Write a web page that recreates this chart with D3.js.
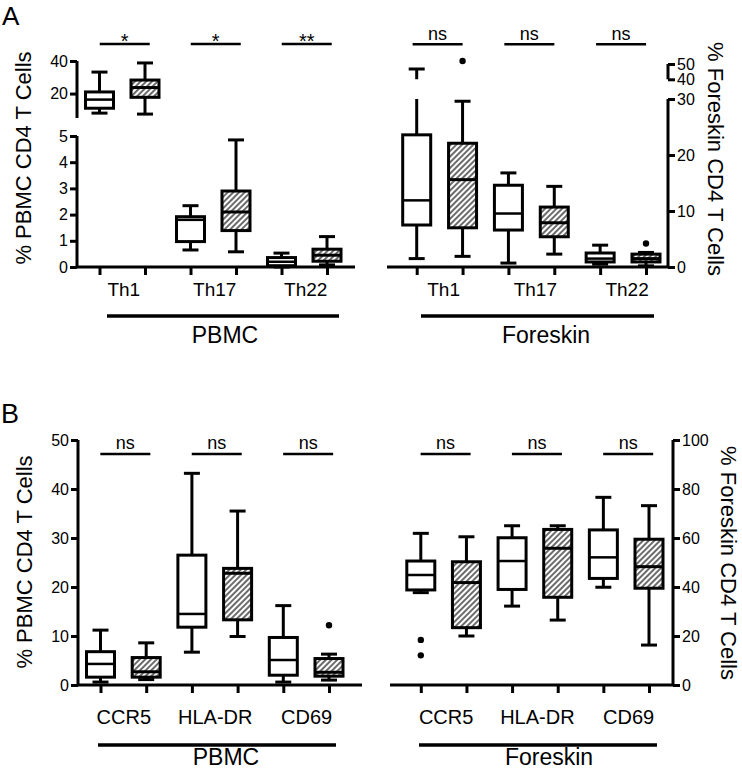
<!DOCTYPE html>
<html><head><meta charset="utf-8">
<script src="https://cdn.jsdelivr.net/npm/d3@7"></script>
<style>
body{margin:0;background:#fff}
text{font-family:"Liberation Sans",Arial,sans-serif;fill:#000}
</style>
</head><body><script>
// ---------- DATA ----------
const catA = ["Th1", "Th17", "Th22"];
const catB = ["CCR5", "HLA-DR", "CD69"];
// each box: [min, q1, median, q3, max]
const aPbmcOpen  = [[8, 11, 16.3, 21, 33.2], [0.65, 0.97, 1.8, 1.92, 2.34], [0, 0.05, 0.2, 0.36, 0.53]];
const aPbmcHatch = [[7.4, 17.7, 23.7, 28.3, 38.8], [0.58, 1.39, 2.1, 2.9, 4.85], [0.08, 0.22, 0.45, 0.68, 1.16]];
const aPbmcOpenOut = [[], [], []];
const aPbmcHatchOut = [[], [], []];
const aForeOpen  = [[1.5, 7.5, 11.9, 23.6, 46.7], [0.7, 6.6, 9.55, 14.6, 16.8], [0.5, 0.9, 1.5, 2.5, 3.9]];
const aForeHatch = [[1.9, 7.0, 15.6, 22.1, 29.6], [2.3, 5.4, 7.9, 10.7, 14.4], [0.2, 0.9, 1.5, 2.3, 2.6]];
const aForeOpenOut = [[], [], []];
const aForeHatchOut = [[52], [], [4.2]];
const bPbmcOpen  = [[0.6, 1.6, 4.3, 6.8, 11.2], [6.7, 11.8, 14.5, 26.5, 43.2], [0.6, 2.0, 5.1, 9.7, 16.2]];
const bPbmcHatch = [[1.1, 1.6, 2.7, 5.6, 8.6], [9.9, 13.3, 22.8, 23.8, 35.5], [1.0, 1.8, 2.6, 5.4, 6.3]];
const bPbmcOpenOut = [[], [], []];
const bPbmcHatchOut = [[], [], [12.2]];
const bForeOpen  = [[37.7, 38.8, 44.9, 50.6, 61.9], [32.2, 39.0, 50.6, 60.1, 65.0], [39.9, 43.5, 52.1, 63.3, 76.6]];
const bForeHatch = [[20.0, 23.4, 41.8, 50.3, 60.5], [26.5, 35.8, 55.8, 63.5, 65.0], [16.3, 39.5, 48.3, 59.5, 73.2]];
const bForeOpenOut = [[18.4, 12.1], [], []];
const bForeHatchOut = [[], [], []];
const sigAPbmc = ["*", "*", "**"];
const sigAFore = ["ns", "ns", "ns"];
const sigBPbmc = ["ns", "ns", "ns"];
const sigBFore = ["ns", "ns", "ns"];
const ticksAPbmcUpper = [20, 40];
const ticksAPbmcLower = [0, 1, 2, 3, 4, 5];
const ticksAForeUpper = [40, 50];
const ticksAForeLower = [0, 10, 20, 30];
const ticksBPbmc = [0, 10, 20, 30, 40, 50];
const ticksBFore = [0, 20, 40, 60, 80, 100];
const groupNames = ["PBMC", "Foreskin"];
const yTitlePbmc = "% PBMC CD4 T Cells";
const yTitleFore = "% Foreskin CD4 T Cells";
const panelLetters = ["A", "B"];

// ---------- LAYOUT ----------
const W = 742, H = 771;
const svg = d3.select("body").append("svg").attr("width", W).attr("height", H);
const defs = svg.append("defs");
const pat = defs.append("pattern").attr("id", "hatch").attr("patternUnits", "userSpaceOnUse")
  .attr("width", 4).attr("height", 4).attr("patternTransform", "rotate(45)");
pat.append("rect").attr("width", 4).attr("height", 4).attr("fill", "#fff");
pat.append("line").attr("x1", 1).attr("y1", -1).attr("x2", 1).attr("y2", 5)
  .attr("stroke", "#3a3a3a").attr("stroke-width", 1.5);

const panels = [
  { cats: catA, open: aPbmcOpen, hatch: aPbmcHatch, openOut: aPbmcOpenOut, hatchOut: aPbmcHatchOut,
    sig: sigAPbmc, group: groupNames[0], side: "left", axisX: 77, xRange: [99.5, 327], xExt: [77, 355], baseY: 267,
    segs: [{ domain: [0, 5], range: [267, 136], ticks: ticksAPbmcLower, clip: [132, 276] },
           { domain: [5, 40], range: [118, 61], ticks: ticksAPbmcUpper, clip: [40, 117] }],
    sigLineY: 44, sigTextY: 47.5, sigFont: 20, sigOff: 2.5, catY: 296, catFont: 19, catOff: 1.5,
    lineY: 316, lineX: [107, 339], groupX: 225, groupY: 343 },
  { cats: catA, open: aForeOpen, hatch: aForeHatch, openOut: aForeOpenOut, hatchOut: aForeHatchOut,
    sig: sigAFore, group: groupNames[1], side: "right", axisX: 668, xRange: [416.7, 646], xExt: [387, 668], baseY: 267,
    segs: [{ domain: [0, 30], range: [267, 99], ticks: ticksAForeLower, clip: [99, 276] },
           { domain: [40, 50], range: [79.3, 64], ticks: ticksAForeUpper, clip: [40, 79.3] }],
    sigLineY: 44.3, sigTextY: 39.5, sigFont: 18, sigOff: -2, catY: 296, catFont: 19, catOff: 4,
    lineY: 316, lineX: [421, 654], groupX: 546, groupY: 343 },
  { cats: catB, open: bPbmcOpen, hatch: bPbmcHatch, openOut: bPbmcOpenOut, hatchOut: bPbmcHatchOut,
    sig: sigBPbmc, group: groupNames[0], side: "left", axisX: 78, xRange: [100.5, 329], xExt: [78, 362], baseY: 685,
    segs: [{ domain: [0, 50], range: [685, 440], ticks: ticksBPbmc, clip: [420, 694] }],
    sigLineY: 454, sigTextY: 448.5, sigFont: 18, sigOff: 2, catY: 724, catFont: 20, catOff: 0.5,
    lineY: 745, lineX: [98, 336], groupX: 226, groupY: 765 },
  { cats: catB, open: bForeOpen, hatch: bForeHatch, openOut: bForeOpenOut, hatchOut: bForeHatchOut,
    sig: sigBFore, group: groupNames[1], side: "right", axisX: 673, xRange: [420.8, 649], xExt: [390, 673], baseY: 685,
    segs: [{ domain: [0, 100], range: [685, 440], ticks: ticksBFore, clip: [420, 694] }],
    sigLineY: 454, sigTextY: 448.5, sigFont: 18, sigOff: 2, catY: 724, catFont: 20, catOff: 2.5,
    lineY: 745, lineX: [419, 657], groupX: 549, groupY: 765 }
];

const BW = 28, CW = 16, SW = 3;

function drawBox(g, y, dom, cx, s, hatched, outs) {
  const [mn, q1, md, q3, mx] = s;
  const inDom = v => v >= dom[0] && v <= dom[1];
  const line = (x1, y1, x2, y2, w) => g.append("line").attr("x1", x1).attr("y1", y1).attr("x2", x2).attr("y2", y2)
    .attr("stroke", "#000").attr("stroke-width", w);
  line(cx, y(q3), cx, y(mx), SW);
  line(cx, y(q1), cx, y(mn), SW);
  if (inDom(mx)) line(cx - CW / 2, y(mx), cx + CW / 2, y(mx), SW);
  if (inDom(mn)) line(cx - CW / 2, y(mn), cx + CW / 2, y(mn), SW);
  g.append("rect").attr("x", cx - BW / 2).attr("y", y(q3)).attr("width", BW)
    .attr("height", Math.max(0.5, y(q1) - y(q3)))
    .attr("fill", hatched ? "url(#hatch)" : "#fff").attr("stroke", "#000").attr("stroke-width", SW);
  line(cx - BW / 2, y(md), cx + BW / 2, y(md), hatched ? 3 : 2.5);
  outs.forEach(v => g.append("circle").attr("cx", cx).attr("cy", y(v)).attr("r", 3.2).attr("fill", "#000"));
}

panels.forEach((p, pi) => {
  const slots = d3.range(p.cats.length * 2);
  const x = d3.scalePoint().domain(slots).range(p.xRange);
  const g = svg.append("g");

  p.segs.forEach((sg, si) => {
    const y = d3.scaleLinear().domain(sg.domain).range(sg.range);
    const cid = `clip${pi}_${si}`;
    defs.append("clipPath").attr("id", cid).append("rect")
      .attr("x", p.xExt[0] - 20).attr("y", sg.clip[0]).attr("width", p.xExt[1] - p.xExt[0] + 40)
      .attr("height", sg.clip[1] - sg.clip[0]);
    const bg = g.append("g").attr("clip-path", `url(#${cid})`);
    p.cats.forEach((c, i) => {
      drawBox(bg, y, sg.domain, x(2 * i), p.open[i], false, p.openOut[i]);
      drawBox(bg, y, sg.domain, x(2 * i + 1), p.hatch[i], true, p.hatchOut[i]);
    });
    const ax = (p.side === "left" ? d3.axisLeft(y) : d3.axisRight(y))
      .tickValues(sg.ticks).tickSize(7).tickSizeOuter(0).tickPadding(2).tickFormat(d3.format("d"));
    const ag = g.append("g").attr("transform", `translate(${p.axisX},0)`).call(ax);
    ag.select(".domain").attr("stroke-width", SW).attr("d", `M0,${sg.range[0]}V${sg.range[1]}`);
    ag.selectAll(".tick line").attr("stroke-width", SW);
    ag.selectAll(".tick text").style("font-size", "16px").style("font-family", '"Liberation Sans",Arial,sans-serif');
  });

  const xa = d3.axisBottom(x).tickSize(8).tickSizeOuter(0).tickFormat("");
  const xg = g.append("g").attr("transform", `translate(0,${p.baseY})`).call(xa);
  xg.select(".domain").attr("stroke-width", SW).attr("d", `M${p.xExt[0]},0H${p.xExt[1]}`);
  xg.selectAll(".tick line").attr("stroke-width", SW);

  p.cats.forEach((c, i) => {
    const mid = (x(2 * i) + x(2 * i + 1)) / 2;
    g.append("text").attr("x", mid + p.catOff).attr("y", p.catY).attr("text-anchor", "middle")
      .style("font-size", p.catFont + "px").text(c);
    const sc = mid + p.sigOff;
    g.append("line").attr("x1", sc - 25).attr("x2", sc + 25).attr("y1", p.sigLineY).attr("y2", p.sigLineY)
      .attr("stroke", "#000").attr("stroke-width", 2.5);
    g.append("text").attr("x", sc).attr("y", p.sigTextY).attr("text-anchor", "middle")
      .style("font-size", p.sigFont + "px").text(p.sig[i]);
  });

  g.append("line").attr("x1", p.lineX[0]).attr("x2", p.lineX[1]).attr("y1", p.lineY).attr("y2", p.lineY)
    .attr("stroke", "#000").attr("stroke-width", 3.5);
  g.append("text").attr("x", p.groupX).attr("y", p.groupY).attr("text-anchor", "middle")
    .style("font-size", "23px").text(p.group);
});

const titles = [
  { t: yTitlePbmc, x: 31, y: 158, r: -90 },
  { t: yTitleFore, x: 708, y: 159, r: 90 },
  { t: yTitlePbmc, x: 32, y: 562, r: -90 },
  { t: yTitleFore, x: 721, y: 563, r: 90 }
];
titles.forEach(d => svg.append("text").attr("transform", `translate(${d.x},${d.y}) rotate(${d.r})`)
  .attr("text-anchor", "middle").style("font-size", "22px").text(d.t));

svg.append("text").attr("x", 2).attr("y", 25).style("font-size", "26px").text(panelLetters[0]);
svg.append("text").attr("x", 1).attr("y", 423).style("font-size", "27px").text(panelLetters[1]);
</script></body></html>
